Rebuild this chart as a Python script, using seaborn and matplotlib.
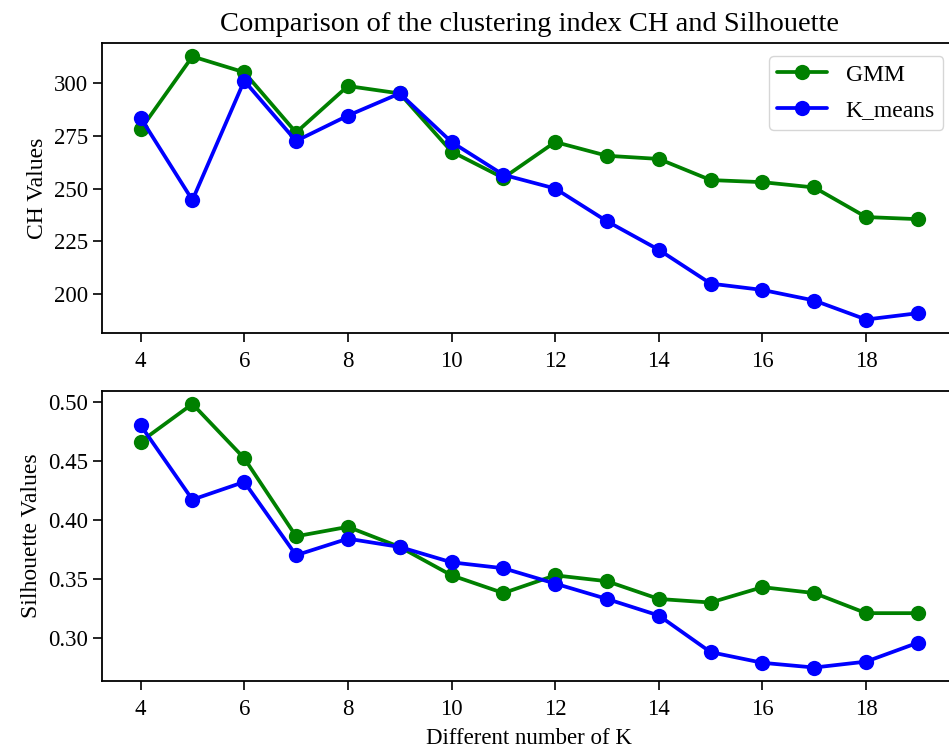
import pandas as pd
import matplotlib
matplotlib.use("Agg")
import matplotlib.pyplot as plt
import seaborn as sns

# Datos
k_values = list(range(4, 20))
gmm_ch = [278, 312.5, 305, 276.5, 298.5, 295, 267.5, 255, 272, 265.5, 264, 254, 253, 250.5, 236.5, 235.5]
kmeans_ch = [283.5, 244.5, 301, 272.5, 284.5, 295, 272, 256.5, 250, 234.5, 221, 205, 202, 197, 188, 191]
gmm_sil = [0.466, 0.498, 0.452, 0.386, 0.394, 0.377, 0.353, 0.338, 0.353, 0.348, 0.333, 0.330, 0.343, 0.338, 0.321, 0.321]
kmeans_sil = [0.480, 0.417, 0.432, 0.370, 0.384, 0.377, 0.364, 0.359, 0.346, 0.333, 0.319, 0.288, 0.279, 0.275, 0.280, 0.296]
methods = ["GMM", "K_means"]

df = pd.DataFrame({
    "K": k_values * 2,
    "method": [methods[0]] * len(k_values) + [methods[1]] * len(k_values),
    "CH": gmm_ch + kmeans_ch,
    "Silhouette": gmm_sil + kmeans_sil,
})

sns.set_style("ticks")
plt.rcParams["font.family"] = ["Liberation Serif", "DejaVu Serif"]
plt.rcParams["text.color"] = "black"
plt.rcParams["axes.labelcolor"] = "black"
plt.rcParams["xtick.color"] = "black"
plt.rcParams["ytick.color"] = "black"
palette = {"GMM": "green", "K_means": "blue"}

fig = plt.figure(figsize=(9.49, 7.53), dpi=100)
ax1 = fig.add_axes([0.1072, 0.5582, 0.901, 0.3843])
ax2 = fig.add_axes([0.1072, 0.096, 0.901, 0.3851])

sns.lineplot(data=df, x="K", y="CH", hue="method", palette=palette, marker="o",
             markersize=11, linewidth=2.7, markeredgewidth=0, ax=ax1)
sns.lineplot(data=df, x="K", y="Silhouette", hue="method", palette=palette, marker="o",
             markersize=11, linewidth=2.7, markeredgewidth=0, ax=ax2, legend=False)

for ax in (ax1, ax2):
    ax.set_xticks(range(4, 20, 2))
    ax.tick_params(labelsize=16.5, length=6.5, width=1.2)
    ax.tick_params(axis="x", pad=6.5)
    for s in ax.spines.values():
        s.set_linewidth(1.3)
        s.set_color("black")
    ax.set_xlabel("")

ax1.set_title("Comparison of the clustering index CH and Silhouette", fontsize=20.5, pad=9)
ax1.set_ylabel("CH Values", fontsize=17)
ax2.set_ylabel("Silhouette Values", fontsize=17)
ax2.set_xlabel("Different number of K", fontsize=16.5, labelpad=6)
ax1.set_yticks([200, 225, 250, 275, 300])
ax2.set_yticks([0.30, 0.35, 0.40, 0.45, 0.50])
ax2.yaxis.set_major_formatter(matplotlib.ticker.FormatStrFormatter("%.2f"))

leg = ax1.legend(loc="upper right", fontsize=17, bbox_to_anchor=(0.998, 0.997),
                 handlelength=2.1, borderpad=0.35, labelspacing=0.6)
leg.set_title(None)

plt.savefig("out.png", dpi=100)
